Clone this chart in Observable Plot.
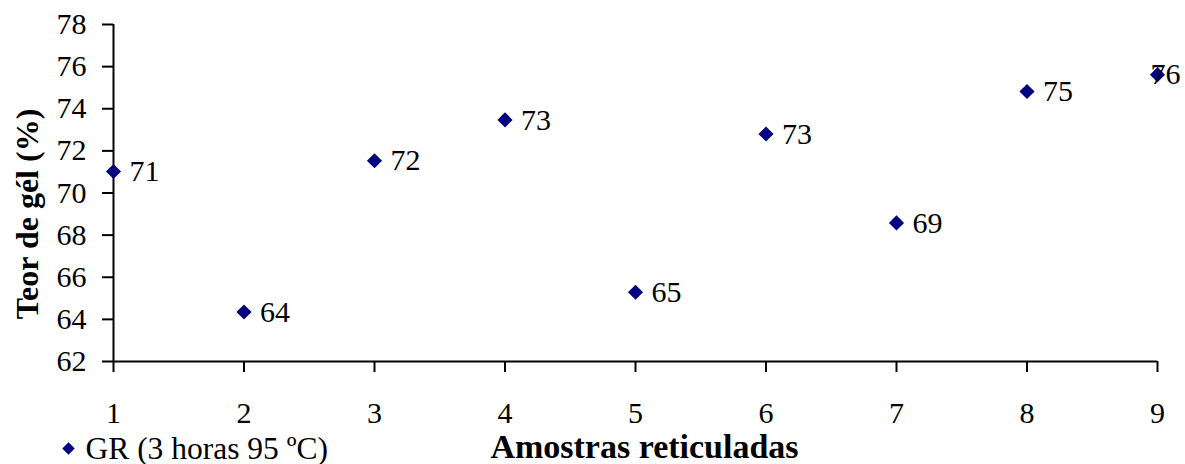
<!DOCTYPE html>
<html><head><meta charset="utf-8">
<script src="https://cdn.jsdelivr.net/npm/d3@7"></script>
<script src="https://cdn.jsdelivr.net/npm/@observablehq/plot@0.6"></script>
<style>body{margin:0;background:#fff}</style>
</head><body><div id="chart"></div>
<script>
const samples = [1, 2, 3, 4, 5, 6, 7, 8, 9];
const gelContent = [71.02, 64.35, 71.53, 73.47, 65.29, 72.8, 68.58, 74.82, 75.62];
const pointLabels = ["71", "64", "72", "73", "65", "73", "69", "75", "76"];
const yTicks = [62, 64, 66, 68, 70, 72, 74, 76, 78];
const xTicks = [1, 2, 3, 4, 5, 6, 7, 8, 9];
const xTitle = "Amostras reticuladas";
const yTitle = "Teor de gél (%)";
const seriesName = "GR (3 horas 95 ºC)";

const data = samples.map((s, i) => ({sample: s, value: gelContent[i], label: pointLabels[i]}));
const last = data.length - 1;
const navy = "#000080";

const chart = Plot.plot({
  width: 1185, height: 464,
  marginLeft: 113, marginRight: 28, marginTop: 24, marginBottom: 103,
  style: {fontFamily: "'Liberation Serif', 'Times New Roman', serif", fontSize: "30px", color: "#000", background: "#fff", overflow: "visible"},
  x: {domain: [xTicks[0], xTicks[xTicks.length - 1]]},
  y: {domain: [yTicks[0], yTicks[yTicks.length - 1]]},
  marks: [
    Plot.axisY({ticks: yTicks, tickSize: 11, tickPadding: 16, strokeWidth: 2, label: null, fontSize: 30}),
    Plot.axisX({ticks: xTicks, tickSize: 11, tickPadding: 29, strokeWidth: 2, label: null, tickFormat: d => String(d), fontSize: 30}),
    Plot.ruleX([xTicks[0]], {stroke: "#000", strokeWidth: 2}),
    Plot.ruleY([yTicks[0]], {stroke: "#000", strokeWidth: 2}),
    Plot.dot(data, {x: "sample", y: "value", symbol: "diamond2", r: 6.8, fill: navy, stroke: "none"}),
    Plot.text(data.filter((d, i) => i < last), {x: "sample", y: "value", text: "label", dx: 16, textAnchor: "start", lineAnchor: "middle", fontSize: 30, fill: "#000"}),
    Plot.text(data.filter((d, i) => i === last), {x: "sample", y: "value", text: "label", dx: -7, textAnchor: "start", lineAnchor: "middle", fontSize: 30, fill: "#000"}),
    Plot.text([yTitle], {frameAnchor: "left", text: d => d, rotate: -90, dx: -86, dy: 21, textAnchor: "middle", lineAnchor: "middle", fontWeight: "bold", fontSize: 32, fill: "#000"}),
    Plot.text([xTitle], {frameAnchor: "bottom", text: d => d, dx: 9, dy: 86, textAnchor: "middle", lineAnchor: "middle", fontWeight: "bold", fontSize: 34, fill: "#000"}),
    Plot.dot([seriesName], {frameAnchor: "bottom-left", dx: -45, dy: 87, symbol: "diamond2", r: 5.6, fill: navy, stroke: "none"}),
    Plot.text([seriesName], {frameAnchor: "bottom-left", text: d => d, dx: -28, dy: 87, textAnchor: "start", lineAnchor: "middle", fontSize: 31.5, fill: "#000"})
  ]
});
document.getElementById("chart").appendChild(chart);
</script>
</body></html>
